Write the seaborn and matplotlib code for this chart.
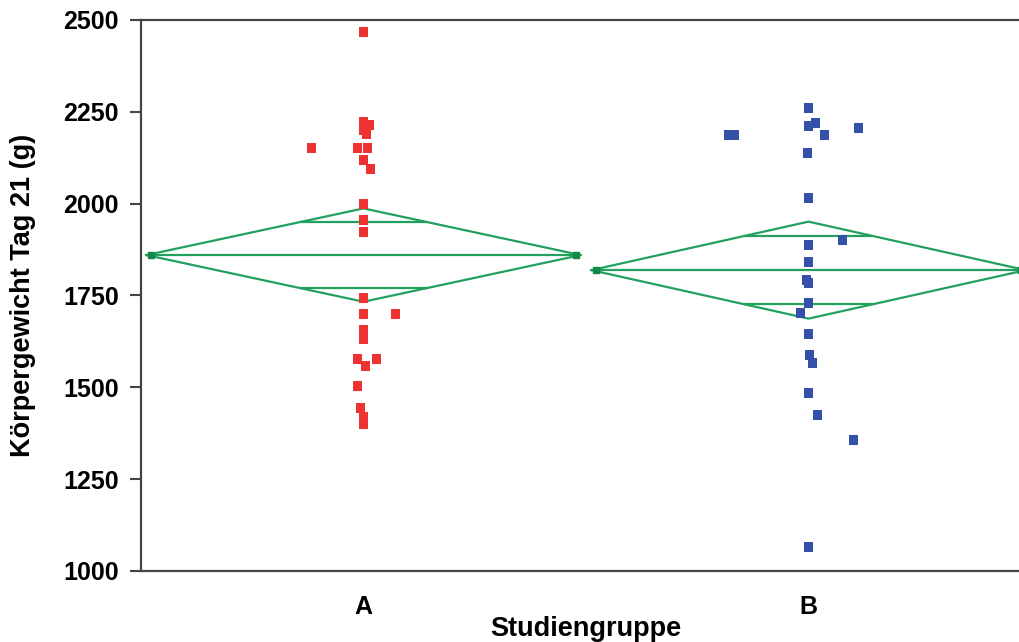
import matplotlib
matplotlib.use("Agg")
import matplotlib.pyplot as plt
import seaborn as sns
import pandas as pd
import numpy as np

# Body weight at day 21
weight_a = [2467, 2222, 2214, 2200, 2190, 2152, 2152, 2152, 2119, 2094, 1999,
            1956, 1923, 1743, 1700, 1700, 1655, 1632, 1577, 1577, 1558, 1504,
            1444, 1420, 1400]
jitter_a = [0, 0, 6, 0, 3, -52, -6, 4, 0, 7, 0,
            0, 0, 0, 0, 32, 0, 0, -6, 13, 2, -6,
            -3, 0, 0]
weight_b = [2260, 2219, 2211, 2187, 2187, 2187, 2206, 2138, 2015, 1901, 1888,
            1841, 1792, 1784, 1730, 1702, 1645, 1588, 1566, 1485, 1425, 1357,
            1065]
jitter_b = [0, 7, 0, -80, -74, 16, 50, -1, 0, 34, 0,
            0, -2, 0, 0, -8, 0, 1, 4, 0, 9, 45,
            0]

groups = ["A", "B"]
group_means = [1860, 1819]
group_ci = [127, 132]  # half-width of 95% CI (diamond height)

sns.set_style("white")
plt.rcParams["font.family"] = ["Liberation Sans", "DejaVu Sans"]
plt.rcParams["text.color"] = "black"
plt.rcParams["axes.labelcolor"] = "black"
plt.rcParams["xtick.color"] = "black"
plt.rcParams["ytick.color"] = "black"

px_per_unit = 445.0
df = pd.DataFrame({
    "group": ["A"] * len(weight_a) + ["B"] * len(weight_b),
    "weight": weight_a + weight_b,
    "jitter": jitter_a + jitter_b,
})
df["xpos"] = df["group"].map({g: i for i, g in enumerate(groups)}) + df["jitter"] / px_per_unit

fig = plt.figure(figsize=(10.19, 6.42), dpi=100)
ax = fig.add_axes([0.1384, 0.1106, 0.8734, 0.8583])

sns.scatterplot(data=df, x="xpos", y="weight", hue="group",
                palette={"A": "#EE3232", "B": "#3550A8"},
                marker="s", s=50, linewidth=0, legend=False, ax=ax, zorder=3)

# means diamonds (JMP style)
green = "#22A05E"
half_w = 0.488
for i, (m, ci) in enumerate(zip(group_means, group_ci)):
    xs = [i - half_w, i, i + half_w, i, i - half_w]
    ys = [m, m + ci, m, m - ci, m]
    ax.plot(xs, ys, color=green, lw=1.6, zorder=2)
    ax.plot([i - half_w, i + half_w], [m, m], color=green, lw=1.6, zorder=2)
    ov = ci / np.sqrt(2)
    w_ov = half_w * (1 - 1 / np.sqrt(2))
    for s in (1, -1):
        ax.plot([i - w_ov, i + w_ov], [m + s * ov, m + s * ov], color=green, lw=1.6, zorder=2)
    ax.plot([i - half_w + 0.01, i + half_w - 0.01], [m, m], ls="none", marker="s",
            ms=4, color="#138A48", zorder=2)

ax.set_xlim(-0.5, 1.5)
ax.set_ylim(1000, 2500)
ax.set_yticks(np.arange(1000, 2501, 250))
ax.set_yticklabels([str(v) for v in range(1000, 2501, 250)], fontsize=18, fontweight="bold")
ax.set_xticks([0, 1])
ax.set_xticklabels(groups, fontsize=18, fontweight="bold")
ax.tick_params(axis="y", left=True, length=8, width=1.5, color="#444444", pad=8)
ax.tick_params(axis="x", bottom=False, length=0, pad=17)

for side in ("left", "top", "bottom"):
    ax.spines[side].set_color("#444444")
    ax.spines[side].set_linewidth(1.6)
ax.spines["right"].set_visible(False)

ax.set_xlabel("Studiengruppe", fontsize=19.5, fontweight="bold")
ax.set_ylabel("Körpergewicht Tag 21 (g)", fontsize=19.5, fontweight="bold")
ax.xaxis.set_label_coords(0.5, -0.082)
ax.yaxis.set_label_coords(-0.118, 0.5)

fig.savefig("out.png", dpi=100)
